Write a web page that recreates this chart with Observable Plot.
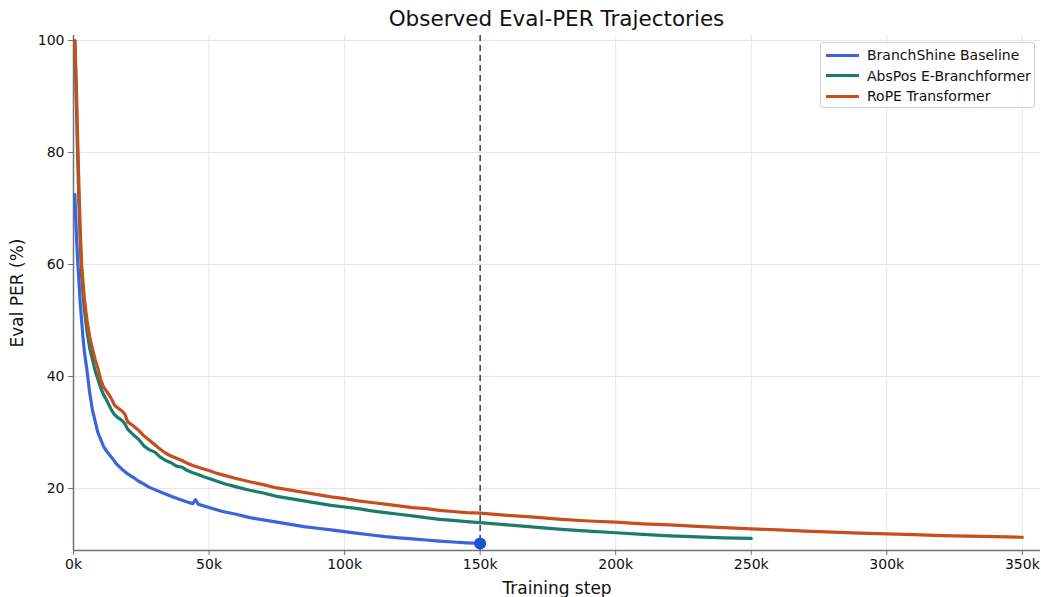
<!DOCTYPE html>
<html><head><meta charset="utf-8">
<script src="https://cdn.jsdelivr.net/npm/d3@7"></script>
<script src="https://cdn.jsdelivr.net/npm/@observablehq/plot@0.6"></script>
<style>
body{margin:0;background:#fff;font-family:"DejaVu Sans",sans-serif;}
#wrap{position:relative;width:1041px;height:597px;}
#title{position:absolute;top:6px;left:73px;width:967px;text-align:center;font-size:21.5px;color:#111;}
#chart{position:absolute;top:30px;left:0;}
#legend{position:absolute;left:820px;top:42px;width:213px;height:64px;border:1px solid #d0d0d0;border-radius:3px;background:rgba(255,255,255,0.85);font-size:14px;color:#111;}
.row{position:absolute;left:5px;height:20px;display:flex;align-items:center;}
.sw{width:33px;height:3px;margin-right:8px;}
</style></head>
<body><div id="wrap"><div id="title">Observed Eval-PER Trajectories</div><div id="chart"></div><div id="legend"></div></div>
<script>
const seriesNames = ["BranchShine Baseline","AbsPos E-Branchformer","RoPE Transformer"];
const seriesColors = ["#3a63dc","#1c7c6b","#c64f1d"];

const baselineSteps = [0.5,1,1.5,2,2.5,3,3.5,4,5,6,7,8,9,10,11,12,14,16,18,20,22,24,26,28,30,33,36,39,42,44,45,46,48,50,55,60,65,70,75,80,85,90,95,100,105,110,115,120,125,130,135,140,145,150];
const baselinePER = [72.5,66,61,57,53,50,47,44.5,41,37,34,32,30,28.8,27.6,26.8,25.6,24.3,23.4,22.6,22.0,21.3,20.8,20.2,19.8,19.2,18.6,18.1,17.6,17.3,18.0,17.2,16.9,16.6,15.9,15.4,14.8,14.4,14.0,13.6,13.2,12.9,12.6,12.3,12.0,11.7,11.4,11.2,11.0,10.8,10.6,10.45,10.3,10.2];

const absposSteps = [0.5,1,1.5,2,2.5,3,4,5,6,7,8,9,10,11,12,13,14,15,16,18,19,20,22,24,26,28,30,32,34,36,38,40,42,44,46,48,50,53,56,60,65,70,75,80,85,90,95,100,105,110,115,120,125,130,135,140,145,150,160,170,180,190,200,210,220,230,240,250];
const absposPER = [100,90,80,71,64,58,52,48,45,43,41,39.5,38,36.8,36,35,34,33.3,32.8,32.1,31.5,30.6,29.6,28.8,27.6,26.9,26.5,25.6,25.0,24.6,24.0,23.8,23.2,22.8,22.5,22.1,21.8,21.3,20.8,20.3,19.7,19.2,18.6,18.2,17.8,17.4,17.0,16.7,16.4,16.0,15.7,15.4,15.1,14.8,14.5,14.3,14.1,13.9,13.5,13.1,12.7,12.4,12.1,11.8,11.55,11.35,11.2,11.1];

const ropeSteps = [0.5,1,1.5,2,2.5,3,4,5,6,7,8,9,10,11,12,13,14,15,16,18,19,20,22,24,26,28,30,32,34,36,38,40,42,44,46,48,50,53,56,60,65,70,75,80,85,90,95,100,105,110,115,120,125,130,135,140,145,150,160,170,180,190,200,210,220,230,240,250,260,270,280,290,300,310,320,330,340,350];
const ropePER = [100,93,83,74,66,60,54,50,47,45,43,41.5,39.5,38.2,37.5,36.8,36,35,34.5,33.8,33.2,31.9,31.2,30.4,29.4,28.6,27.8,27.0,26.3,25.8,25.4,25.0,24.5,24.1,23.8,23.5,23.2,22.7,22.3,21.8,21.2,20.7,20.1,19.7,19.3,18.9,18.5,18.2,17.8,17.5,17.2,16.9,16.6,16.4,16.1,15.9,15.7,15.6,15.2,14.9,14.5,14.2,14.0,13.7,13.5,13.25,13.0,12.8,12.6,12.4,12.2,12.05,11.9,11.75,11.6,11.5,11.4,11.3];

const xTicksK = [0,50,100,150,200,250,300,350];
const yTicks = [20,40,60,80,100];
const cutoffStepK = 150;
const xDomainK = [0, 356.7];
const yDomain = [8.93, 100.9];

const rows = [];
[[baselineSteps, baselinePER], [absposSteps, absposPER], [ropeSteps, ropePER]].forEach(([s, v], i) => {
  s.forEach((k, j) => rows.push({series: seriesNames[i], step: k * 1000, per: v[j]}));
});
const endpoint = [{step: baselineSteps[baselineSteps.length-1]*1000, per: baselinePER[baselinePER.length-1]}];

const plot = Plot.plot({
  width: 1041, height: 567,
  marginLeft: 73, marginRight: 1, marginTop: 5, marginBottom: 47,
  style: {fontFamily: "DejaVu Sans, sans-serif", fontSize: "14px", color: "#111", background: "transparent"},
  x: {domain: xDomainK.map(d => d*1000), ticks: xTicksK.map(d => d*1000), tickFormat: d => d/1000 + "k"},
  y: {domain: yDomain, ticks: yTicks},
  color: {domain: seriesNames, range: seriesColors},
  marks: [
    Plot.gridX(xTicksK.map(d => d*1000), {stroke: "#e3e6ed", strokeOpacity: 1}),
    Plot.gridY(yTicks, {stroke: "#e3e6ed", strokeOpacity: 1}),
    Plot.axisX(xTicksK.map(d => d*1000), {tickSize: 5, tickPadding: 4, stroke: "#6b7280", label: "Training step", labelAnchor: "center", labelArrow: "none", labelOffset: 43, tickFormat: d => d/1000 + "k"}),
    Plot.axisY(yTicks, {tickSize: 5, tickPadding: 4, stroke: "#6b7280", label: "Eval PER (%)", labelAnchor: "center", labelArrow: "none", labelOffset: 63}),
    Plot.ruleX([xDomainK[0]*1000], {stroke: "#6b7280", strokeWidth: 1.5}),
    Plot.ruleY([yDomain[0]], {stroke: "#6b7280", strokeWidth: 1.5}),
    Plot.ruleX([cutoffStepK*1000], {stroke: "#2b3553", strokeWidth: 1.4, strokeDasharray: "6,4"}),
    Plot.line(rows, {x: "step", y: "per", z: "series", stroke: "series", strokeWidth: 3.2, strokeLinejoin: "round"}),
    Plot.dot(endpoint, {x: "step", y: "per", r: 6, fill: "#1f4fd6", stroke: "none"})
  ]
});
plot.querySelectorAll('[aria-label="x-axis tick label"], [aria-label="y-axis tick label"]').forEach(g => {
  g.setAttribute("font-size", "14");
  g.querySelectorAll("text").forEach(t => t.setAttribute("font-size", "14"));
});
plot.querySelectorAll('[aria-label="x-axis label"], [aria-label="y-axis label"]').forEach(g => {
  g.setAttribute("font-size", "17");
  g.querySelectorAll("text").forEach(t => t.setAttribute("font-size", "17"));
});
document.getElementById("chart").appendChild(plot);

const lg = document.getElementById("legend");
seriesNames.forEach((n, i) => {
  const r = document.createElement("div");
  r.className = "row"; r.style.top = (2 + i*20.5) + "px";
  r.innerHTML = `<div class="sw" style="background:${seriesColors[i]}"></div><span>${n}</span>`;
  lg.appendChild(r);
});
</script></body></html>
